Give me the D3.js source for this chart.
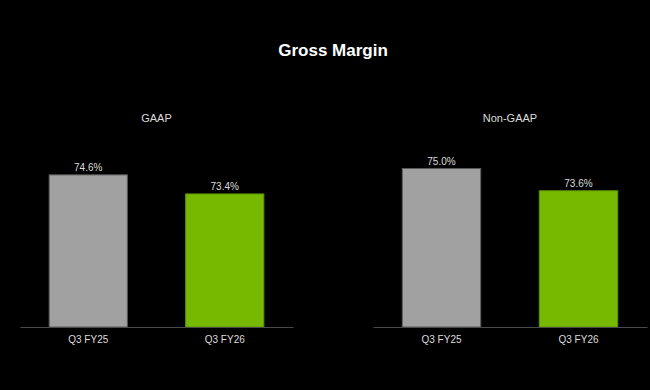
<!DOCTYPE html>
<html>
<head>
<meta charset="utf-8">
<script src="https://cdn.jsdelivr.net/npm/d3@7/dist/d3.min.js"></script>
<style>
  html, body { margin: 0; padding: 0; background: #000; }
  svg { display: block; font-family: "Liberation Sans", Arial, sans-serif; }
</style>
</head>
<body>
<div id="chart"></div>
<script>
var title = "Gross Margin";
var panels = ["GAAP", "Non-GAAP"];
var quarters = ["Q3 FY25", "Q3 FY26"];
var gaapValues = [74.6, 73.4];
var nonGaapValues = [75.0, 73.6];
var barColors = ["#a1a1a1", "#76b900"];
var barStrokes = ["#5a5a5a", "#5e9400"];

var width = 650, height = 390;

var svg = d3.select("#chart").append("svg")
    .attr("width", width)
    .attr("height", height);

svg.append("rect")
    .attr("width", width)
    .attr("height", height)
    .attr("fill", "#000");

svg.append("text")
    .attr("x", 333)
    .attr("y", 56)
    .attr("text-anchor", "middle")
    .attr("fill", "#fff")
    .style("font-size", "17px")
    .style("font-weight", "bold")
    .text(title);

// shared value scale, baseline is not zero
var y = d3.scaleLinear()
    .domain([65, 75])
    .range([327, 168]);

var panelRanges = [[20, 293], [373, 647]];
var panelData = [gaapValues, nonGaapValues];

panels.forEach(function(name, p){
    var values = panelData[p];
    var x = d3.scaleBand()
        .domain(quarters)
        .range(panelRanges[p])
        .paddingInner(0.42)
        .paddingOuter(0.21);

    var g = svg.append("g");

    g.append("text")
        .attr("x", (panelRanges[p][0] + panelRanges[p][1]) / 2)
        .attr("y", 122)
        .attr("text-anchor", "middle")
        .attr("fill", "#dcdcdc")
        .style("font-size", "11px")
        .text(name);

    g.selectAll("rect.bar")
        .data(values)
        .enter().append("rect")
        .attr("class", "bar")
        .attr("x", function(d, i){ return x(quarters[i]) + 0.5; })
        .attr("y", function(d){ return y(d) + 0.5; })
        .attr("width", x.bandwidth() - 1)
        .attr("height", function(d){ return y(65) - y(d) - 0.5; })
        .attr("fill", function(d, i){ return barColors[i]; })
        .attr("stroke", function(d, i){ return barStrokes[i]; })
        .attr("stroke-width", 1);

    g.selectAll("text.val")
        .data(values)
        .enter().append("text")
        .attr("class", "val")
        .attr("x", function(d, i){ return x(quarters[i]) + x.bandwidth() / 2; })
        .attr("y", function(d){ return y(d) - 3; })
        .attr("text-anchor", "middle")
        .attr("fill", "#dcdcdc")
        .style("font-size", "10px")
        .text(function(d){ return d.toFixed(1) + "%"; });

    var axis = g.append("g")
        .attr("transform", "translate(0," + y(65) + ")")
        .call(d3.axisBottom(x).tickSize(0).tickPadding(9));
    axis.select(".domain").attr("stroke", "#4a4a4a").attr("stroke-width", 1);
    axis.selectAll("text")
        .attr("fill", "#dcdcdc")
        .style("font-size", "10px")
        .style("font-family", "\"Liberation Sans\", Arial, sans-serif");
});
</script>
</body>
</html>
